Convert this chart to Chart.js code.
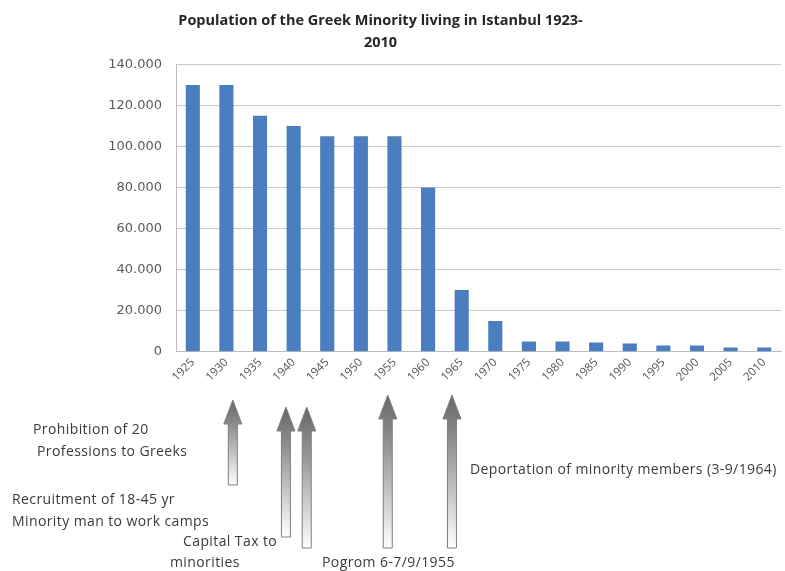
<!DOCTYPE html>
<html>
<head>
<meta charset="utf-8">
<script src="https://cdn.jsdelivr.net/npm/chart.js@4.4.1/dist/chart.umd.min.js"></script>
<style>
  html, body { margin: 0; padding: 0; background: #fff; }
  #wrap { width: 785px; height: 571px; position: relative; }
</style>
</head>
<body>
<div id="wrap"><canvas id="myChart"></canvas></div>
<script>
// Census years on the x axis
const years = ['1925', '1930', '1935', '1940', '1945', '1950', '1955', '1960', '1965',
  '1970', '1975', '1980', '1985', '1990', '1995', '2000', '2005', '2010'];

// Greek population of Istanbul
const population = [130000, 130000, 115000, 110000, 105000, 105000, 105000, 80000, 30000,
  15000, 5000, 5000, 4500, 4000, 3000, 3000, 2000, 2000];

// Tick values of the y axis
const yTicks = [0, 20000, 40000, 60000, 80000, 100000, 120000, 140000];

// Arrows under the axis: where they point (in category units) and how long they are
const arrows = [
  { at: 1.19, top: 400, bottom: 485 },
  { at: 2.77, top: 407, bottom: 537 },
  { at: 3.39, top: 407, bottom: 548 },
  { at: 5.80, top: 395, bottom: 548 },
  { at: 7.71, top: 395, bottom: 548 },
];

// Event notes written under the chart
const notes = [
  { text: 'Prohibition of 20', x: 33, y: 430 },
  { text: 'Professions to Greeks', x: 37, y: 452 },
  { text: 'Recruitment of 18-45 yr', x: 12, y: 500 },
  { text: 'Minority man to work camps', x: 12, y: 522 },
  { text: 'Capital Tax to', x: 183, y: 542 },
  { text: 'minorities', x: 170, y: 563 },
  { text: 'Pogrom 6-7/9/1955', x: 322, y: 563 },
  { text: 'Deportation of minority members (3-9/1964)', x: 470, y: 470 },
];

// Format numbers like 140.000
function dotted(v) {
  return v.toString().replace(/\B(?=(\d{3})+(?!\d))/g, '.');
}

// Draw the arrows and the notes below the x axis
const eventsPlugin = {
  id: 'events',
  afterDraw(chart) {
    const ctx = chart.ctx;
    const xs = chart.scales.x;
    ctx.save();
    arrows.forEach(a => {
      const cx = xs.getPixelForValue(a.at);
      const headW = 9, shaftW = 4.5, headH = 24;
      const grad = ctx.createLinearGradient(0, a.top, 0, a.bottom);
      grad.addColorStop(0, '#666');
      grad.addColorStop(0.3, '#8f8f8f');
      grad.addColorStop(1, '#ffffff');
      ctx.beginPath();
      ctx.moveTo(cx, a.top);
      ctx.lineTo(cx + headW, a.top + headH);
      ctx.lineTo(cx + shaftW, a.top + headH);
      ctx.lineTo(cx + shaftW, a.bottom);
      ctx.lineTo(cx - shaftW, a.bottom);
      ctx.lineTo(cx - shaftW, a.top + headH);
      ctx.lineTo(cx - headW, a.top + headH);
      ctx.closePath();
      ctx.fillStyle = grad;
      ctx.fill();
      ctx.strokeStyle = '#7f7f7f';
      ctx.lineWidth = 1;
      ctx.stroke();
    });
    ctx.fillStyle = '#3a3a3a';
    ctx.font = '14px "Open Sans"';
    ctx.letterSpacing = '0.4px';
    ctx.textBaseline = 'middle';
    ctx.textAlign = 'left';
    notes.forEach(n => ctx.fillText(n.text, n.x, n.y));
    ctx.restore();
  }
};

const ctx = document.getElementById('myChart');

new Chart(ctx, {
  type: 'bar',
  data: {
    labels: years,
    datasets: [
      {
        label: 'Population',
        data: population,
        backgroundColor: '#4a7ebf',
        categoryPercentage: 0.42,
        barPercentage: 1,
      },
    ],
  },
  options: {
    responsive: true,
    maintainAspectRatio: false,
    animation: false,
    // negative left padding moves the title a little to the left, as in the picture
    layout: { padding: { left: -20, right: 4, top: 0, bottom: 183 } },
    plugins: {
      legend: { display: false },
      tooltip: { enabled: false },
      title: {
        display: true,
        text: ['Population of the Greek Minority living in Istanbul 1923-', '2010'],
        color: '#262626',
        font: { family: '"Open Sans"', size: 14.5, weight: 'bold', lineHeight: 1.5 },
        padding: { top: 10, bottom: 11 },
      },
    },
    scales: {
      x: {
        grid: { display: false, drawTicks: false },
        border: { color: '#bdbdbd' },
        ticks: {
          color: '#555',
          font: { family: '"Open Sans"', size: 11.5 },
          minRotation: 45,
          maxRotation: 45,
          padding: 4,
        },
      },
      y: {
        min: 0,
        max: 140000,
        afterFit(scale) { scale.width = 196; },
        afterBuildTicks(scale) { scale.ticks = yTicks.map(v => ({ value: v })); },
        grid: { color: '#c8c8c8', drawTicks: false },
        border: { color: '#bdbdbd' },
        ticks: {
          color: '#5a5a5a',
          font: { family: '"DejaVu Sans"', size: 13 },
          padding: 14,
          callback: v => dotted(v),
        },
      },
    },
  },
  plugins: [eventsPlugin],
});
</script>
</body>
</html>
